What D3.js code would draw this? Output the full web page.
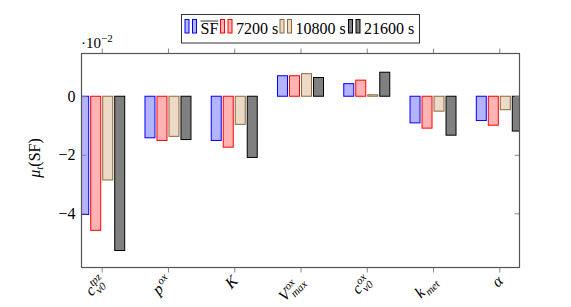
<!DOCTYPE html>
<html>
<head>
<meta charset="utf-8">
<script src="https://cdn.jsdelivr.net/npm/d3@7"></script>
<style>
  body { margin: 0; background: #fff; }
</style>
</head>
<body>
<div id="chart"></div>
<script>
const FONT = "Liberation Serif";

// categories (label pieces: base / sup / sub)
const categories = ["c_v0_tpz", "p_ox", "K", "V_max_ox", "c_v0_ox", "k_met", "alpha"];
const catLabels = [
  {base: "c", sup: "tpz", sub: "v0"},
  {base: "p", sup: "ox", sub: ""},
  {base: "K", sup: "", sub: ""},
  {base: "V", sup: "ox", sub: "max"},
  {base: "c", sup: "ox", sub: "v0"},
  {base: "k", sup: "", sub: "met"},
  {base: "α", sup: "", sub: ""}
];
const seriesNames = ["SF", "7200 s", "10800 s", "21600 s"];
const valuesSF = [-4.04, -1.42, -1.51, 0.70, 0.43, -0.91, -0.83];
const values7200 = [-4.58, -1.51, -1.74, 0.70, 0.55, -1.09, -0.99];
const values10800 = [-2.86, -1.37, -0.96, 0.77, 0.05, -0.51, -0.46];
const values21600 = [-5.27, -1.48, -2.09, 0.64, 0.82, -1.33, -1.19];
const yTicks = [0, -2, -4];

const fills = ["#b3b3ff", "#ffb3b3", "#ecdac6", "#808080"];
const strokes = ["#0000ff", "#ff0000", "#8c6840", "#000000"];

const allSeries = [valuesSF, values7200, values10800, values21600];

const W = 571, H = 307;
const margin = {top: 53.5, right: 51.5, bottom: 39.5, left: 81.5};
const width = W - margin.left - margin.right;
const height = H - margin.top - margin.bottom;

const svg = d3.select("#chart").append("svg")
  .attr("width", W).attr("height", H)
  .attr("font-family", FONT);

const g = svg.append("g")
  .attr("transform", `translate(${margin.left},${margin.top})`);

// scales
const x = d3.scalePoint().domain(categories).range([0, width]).padding(0.305);
const xSub = d3.scaleBand().domain(seriesNames).range([-24, 24]);
const y = d3.scaleLinear().domain([-5.85, 1.46]).range([height, 0]);

g.append("clipPath").attr("id", "clip")
  .append("rect").attr("width", width).attr("height", height);

// bars
const barW = 10;
const bars = g.append("g").attr("clip-path", "url(#clip)");
allSeries.forEach(function (vals, si) {
  bars.selectAll(".bar" + si)
    .data(vals)
    .join("rect")
    .attr("class", "bar" + si)
    .attr("x", (d, i) => x(categories[i]) + xSub(seriesNames[si]) + xSub.bandwidth() / 2 - barW / 2)
    .attr("width", barW)
    .attr("y", (d) => y(Math.max(0, d)))
    .attr("height", (d) => Math.abs(y(d) - y(0)))
    .attr("fill", fills[si])
    .attr("stroke", strokes[si])
    .attr("stroke-width", 1);
});

// y axis (ticks inside, left and right)
const yAxis = d3.axisLeft(y).tickValues(yTicks)
  .tickFormat((d) => (d < 0 ? "\u2212" + Math.abs(d) : d))
  .tickSizeInner(-5).tickSizeOuter(0).tickPadding(6);
const yAxisGroup = g.append("g").call(yAxis).attr("font-family", FONT);
yAxisGroup.select(".domain").remove();
yAxisGroup.selectAll("line").attr("stroke", "#888");
yAxisGroup.selectAll("text").attr("font-size", 16).attr("font-family", FONT);

const yRight = d3.axisRight(y).tickValues(yTicks).tickFormat("").tickSizeInner(-5).tickSizeOuter(0);
const yRightGroup = g.append("g").attr("transform", `translate(${width},0)`).call(yRight);
yRightGroup.select(".domain").remove();
yRightGroup.selectAll("line").attr("stroke", "#888");

// x axis ticks bottom (outside) and top (outside)
const xAxis = d3.axisBottom(x).tickFormat("").tickSizeInner(5).tickSizeOuter(0);
const xAxisGroup = g.append("g").attr("transform", `translate(0,${height})`).call(xAxis);
xAxisGroup.select(".domain").remove();
xAxisGroup.selectAll("line").attr("stroke", "#888");

const xTop = d3.axisTop(x).tickFormat("").tickSizeInner(5).tickSizeOuter(0);
const xTopGroup = g.append("g").call(xTop);
xTopGroup.select(".domain").remove();
xTopGroup.selectAll("line").attr("stroke", "#888");

// frame
g.append("rect")
  .attr("width", width).attr("height", height)
  .attr("fill", "none").attr("stroke", "#555").attr("stroke-width", 1.2);

// x tick labels, rotated 45 degrees, anchored at the east end
categories.forEach(function (c, i) {
  const lab = catLabels[i];
  const outer = g.append("g")
    .attr("transform", `translate(${x(c) + 1},${height + 11}) rotate(-45)`);
  const inner = outer.append("g");
  const base = inner.append("text")
    .attr("font-family", FONT)
    .attr("font-size", 16).attr("font-style", "italic")
    .attr("y", 5).text(lab.base);
  const bw = base.node().getComputedTextLength();
  let w = bw;
  if (lab.sup) {
    const t = inner.append("text").attr("font-family", FONT)
      .attr("font-size", 11).attr("font-style", "italic")
      .attr("x", bw + 1).attr("y", -1).text(lab.sup);
    w = Math.max(w, bw + 1 + t.node().getComputedTextLength());
  }
  if (lab.sub) {
    const t = inner.append("text").attr("font-family", FONT)
      .attr("font-size", 11).attr("font-style", "italic")
      .attr("x", bw + 0.5).attr("y", 9).text(lab.sub);
    w = Math.max(w, bw + 0.5 + t.node().getComputedTextLength());
  }
  inner.attr("transform", `translate(${-w},0)`);
});

// scale note
const note = svg.append("text").attr("x", 81).attr("y", 48)
  .attr("font-family", FONT).attr("font-size", 15);
note.append("tspan").text("\u00b710");
note.append("tspan").attr("font-size", 11).attr("dy", -6).text("\u22122");

// y label
const yl = svg.append("text")
  .attr("transform", "translate(40,158) rotate(-90)")
  .attr("text-anchor", "middle")
  .attr("font-family", FONT)
  .attr("font-size", 16);
yl.append("tspan").attr("font-style", "italic").text("\u03bc");
yl.append("tspan").attr("font-style", "italic").attr("font-size", 11).attr("dy", 3).text("t");
yl.append("tspan").attr("dy", -3).text("(SF)");

// legend
const legend = svg.append("g");
legend.append("rect")
  .attr("x", 181.5).attr("y", 14.5).attr("width", 238).attr("height", 28.5)
  .attr("fill", "#fff").attr("stroke", "#333").attr("stroke-width", 1);
const legX = [185, 220.5, 280, 348.5];
seriesNames.forEach(function (s, i) {
  [0, 7.5].forEach(function (dx) {
    legend.append("rect")
      .attr("x", legX[i] + dx).attr("y", 19.5).attr("width", 4).attr("height", 13.5)
      .attr("fill", fills[i]).attr("stroke", strokes[i]).attr("stroke-width", 1);
  });
  const t = legend.append("text")
    .attr("x", legX[i] + 15.5).attr("y", 34)
    .attr("font-family", FONT).attr("font-size", 16).text(s);
  if (i === 0) {
    const tw = t.node().getComputedTextLength();
    legend.append("line")
      .attr("x1", legX[i] + 15.5).attr("x2", legX[i] + 15.5 + tw)
      .attr("y1", 21).attr("y2", 21)
      .attr("stroke", "#000").attr("stroke-width", 0.8);
  }
});
</script>
</body>
</html>
